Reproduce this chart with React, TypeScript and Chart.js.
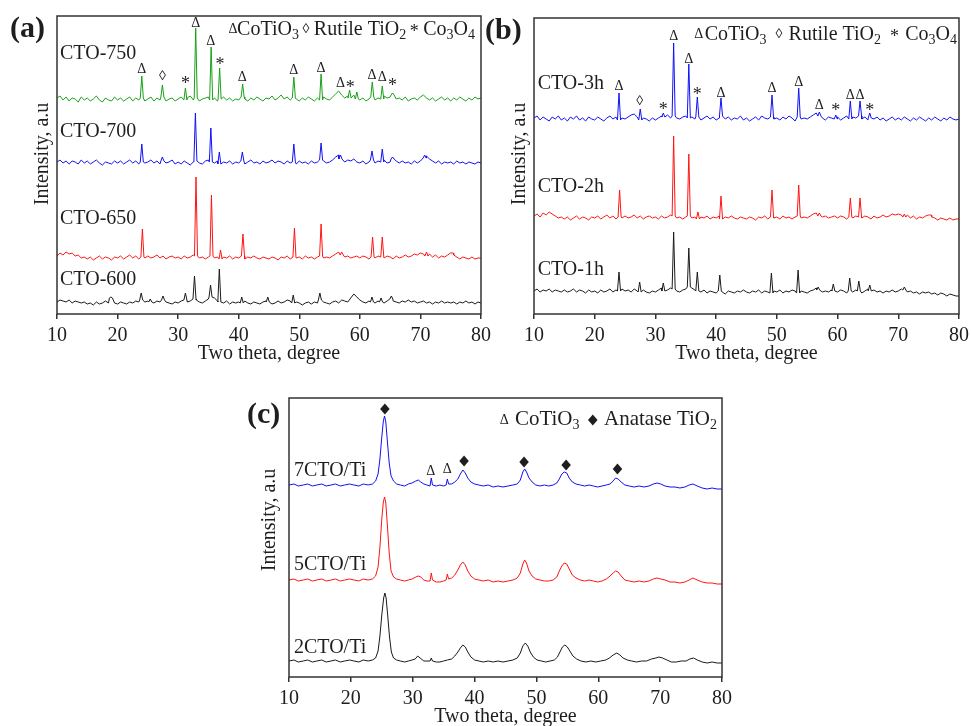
import React, { useEffect, useRef } from "react";
import { Chart, registerables } from "chart.js";
Chart.register(...registerables);

const FONT = '"Liberation Serif", "Times New Roman", serif';
const INK = "#1e1e1e";

// ---------- shared axis data ----------
const xTicks = [10, 20, 30, 40, 50, 60, 70, 80];
const gridStart = 10;
const gridStep = 0.5;

// ---------- panel (a): baselines sampled every 0.5 deg from 10 to 80 ----------
const cto750Base = [
  216,218,214,217,213,216,215,212,217,214,
  216,213,215,218,214,212,216,214,213,217,
  214,216,213,215,217,213,216,214,216,213,
  215,217,213,216,214,217,213,215,216,213,
  215,217,214,216,218,214,216,213,215,216,
  217,214,216,213,215,217,214,216,213,215,
  214,217,215,213,216,214,217,215,213,216,
  215,218,214,216,219,215,217,214,216,215,
  213,216,214,217,215,213,216,214,217,215,
  214,217,220,223,219,216,218,216,219,215,
  214,216,213,215,217,214,216,215,218,216,
  217,219,215,216,214,217,213,215,216,214,
  217,219,216,214,216,213,215,217,214,216,
  213,216,214,217,215,213,216,214,217,215,
  216,
];
const cto750Peaks = [
  [24.0, 238], [27.4, 229], [31.2, 226], [32.9, 286], [35.45, 267], [36.85, 246],
  [40.65, 230], [49.1, 237], [53.6, 240], [58.3, 224], [59.5, 222], [62.05, 232],
  [63.7, 228], [65.4, 221],
];

const cto700Base = [
  152,154,151,153,150,153,152,150,154,151,
  153,150,152,154,151,149,152,151,150,153,
  151,153,150,152,154,151,153,150,152,151,
  152,154,151,153,150,153,151,152,154,150,
  152,150,153,151,149,152,153,151,150,153,
  154,152,151,153,150,152,151,153,150,152,
  151,153,150,152,154,151,152,150,153,151,
  152,154,151,153,152,150,153,151,152,150,
  153,151,152,150,153,151,152,154,153,151,
  152,154,157,159,155,152,154,153,155,152,
  151,153,150,152,154,151,153,152,154,151,
  152,155,153,151,153,151,152,150,153,151,
  153,156,158,155,153,151,153,150,152,151,
  152,150,153,151,152,150,152,151,150,152,
  151,
];
const cto700Peaks = [
  [24.0, 170], [27.4, 157], [32.85, 201], [35.4, 186], [36.8, 162], [40.6, 162],
  [49.1, 170], [53.6, 171], [56.8, 159], [62.0, 163], [63.7, 165], [65.4, 157],
  [70.7, 159],
];

const cto650Base = [
  58,61,59,62,60,61,58,59,56,57,
  55,57,54,56,58,55,57,56,54,57,
  56,58,55,57,59,56,58,55,57,56,
  58,56,57,59,56,58,55,57,58,56,
  57,55,58,56,57,59,58,56,57,55,
  57,58,56,57,55,57,56,58,55,57,
  56,58,55,57,56,58,56,55,57,56,
  55,57,56,54,57,56,58,55,57,56,
  57,55,58,56,57,55,57,58,56,57,
  56,58,60,62,59,57,58,56,57,58,
  56,58,57,55,57,56,58,57,56,58,
  57,55,58,56,57,59,57,58,60,59,
  61,60,58,60,57,59,56,58,57,59,
  61,59,57,55,57,56,55,57,55,56,
  56,
];
const cto650Peaks = [
  [24.1, 85], [32.95, 137], [35.5, 119], [37.0, 64], [40.7, 80], [49.2, 86],
  [53.6, 90], [57.0, 62], [62.1, 77], [63.7, 77], [71.0, 62], [75.2, 61],
];

const cto600Base = [
  12,14,13,12,14,11,13,12,11,12,
  10,11,9,12,10,11,13,11,16,11,
  10,12,11,10,12,11,13,12,14,12,
  13,12,11,13,12,14,12,11,10,12,
  11,13,14,12,13,15,14,12,11,13,
  15,17,16,13,12,11,13,10,12,11,
  12,11,13,11,10,12,11,10,12,13,
  12,10,11,13,11,12,14,13,11,12,
  11,9,11,12,10,12,11,14,12,11,
  10,12,13,11,14,13,12,16,20,17,
  14,12,11,13,12,11,13,12,11,13,
  15,13,12,11,13,12,14,12,13,11,
  12,13,11,12,10,12,11,13,11,12,
  11,12,10,12,11,13,11,12,10,12,
  11,
];
const cto600Peaks = [
  [18.9, 17], [23.9, 21], [25.4, 15], [27.5, 18], [31.2, 21], [32.7, 38],
  [35.35, 29], [36.8, 45], [40.5, 17], [44.8, 17], [49.0, 19], [53.4, 21],
  [62.0, 17], [63.5, 16], [65.2, 18],
];

// ---------- panel (b) ----------
const cto3hBase = [
  196,198,194,197,195,193,197,195,198,194,
  196,193,197,195,198,194,196,193,197,195,
  194,197,195,193,196,198,195,197,194,196,
  195,197,199,200,197,194,196,195,193,196,
  194,196,198,197,199,196,198,196,195,197,
  198,196,197,195,197,194,196,198,195,197,
  194,196,198,195,197,194,196,195,198,194,
  196,193,195,197,194,198,196,195,197,195,
  196,194,197,195,198,196,193,197,195,196,
  195,197,199,201,198,196,194,197,196,195,
  197,194,196,198,195,197,196,198,195,197,
  194,196,195,197,194,196,193,195,197,194,
  196,194,197,195,193,196,194,197,195,193,
  196,194,197,195,193,196,194,197,195,194,
  195,
];
const cto3hPeaks = [
  [24.0, 221], [27.5, 205], [31.3, 201], [33.0, 271], [35.5, 250], [36.9, 217],
  [40.8, 216], [49.2, 219], [53.6, 226], [57.0, 202], [59.7, 199], [62.1, 213],
  [63.7, 213], [65.3, 201],
];

const cto2hBase = [
  98,100,97,101,99,102,100,98,96,97,
  95,97,94,96,98,95,97,96,94,97,
  96,98,95,97,99,96,98,95,97,96,
  98,96,97,99,96,98,95,97,98,96,
  97,95,98,96,97,99,98,96,97,95,
  97,98,96,97,95,97,96,98,95,97,
  96,98,95,97,96,98,96,95,97,96,
  95,97,96,94,97,96,98,95,97,96,
  97,95,98,96,97,95,97,98,96,97,
  96,98,100,101,98,97,98,96,97,98,
  96,98,97,95,97,96,98,97,96,98,
  97,95,98,96,97,99,97,98,100,99,
  100,99,97,99,96,98,95,97,96,98,
  99,97,96,94,96,95,94,96,94,95,
  95,
];
const cto2hPeaks = [
  [24.1, 124], [33.0, 178], [35.5, 160], [37.0, 102], [40.8, 118], [49.2, 124],
  [53.6, 129], [57.0, 101], [62.1, 116], [63.7, 116], [71.0, 100], [75.2, 99],
];

const cto1hBase = [
  23,25,22,24,23,25,22,24,23,22,
  24,22,23,25,22,24,23,21,24,22,
  23,21,24,22,23,25,22,24,23,25,
  23,24,22,25,23,22,24,22,21,23,
  22,24,26,23,24,26,25,23,22,24,
  25,27,26,24,23,22,24,21,23,22,
  21,23,22,20,23,22,21,23,22,24,
  22,21,23,22,24,21,23,22,21,23,
  22,24,21,23,22,24,23,21,23,22,
  21,23,24,26,24,22,23,22,24,23,
  22,24,23,21,23,22,24,23,21,23,
  25,23,24,22,23,21,23,22,24,22,
  23,25,24,22,23,21,22,20,22,21,
  22,20,21,19,21,20,18,20,19,18,
  18,
];
const cto1hPeaks = [
  [24.0, 42], [27.4, 32], [31.3, 31], [33.0, 82], [35.5, 66], [36.9, 42],
  [40.6, 39], [49.1, 41], [53.5, 44], [56.8, 27], [59.3, 30], [62.0, 36],
  [63.5, 33], [65.3, 29], [71.0, 27],
];

// ---------- panel (c): explicit [2theta, intensity] points ----------
const cto7Ti = [
  [10,192],[10.8,193],[11.5,191],[12.3,192],[13,193],[13.8,191],[14.5,192],[15.3,193],[16,191],[16.8,192],
  [17.5,193],[18.3,191],[19,192],[19.8,193],[20.5,192],[21.3,191],[22,193],[22.8,192],[23.5,193],[24.0,196],
  [24.4,203],[24.7,218],[25.0,240],[25.25,256],[25.45,261],[25.65,255],[25.9,236],[26.2,214],[26.5,201],[26.9,196],
  [27.4,193],[28,192],[28.7,191],[29.3,193],[29.9,194],[30.5,196],[30.9,197],[31.3,195],[31.8,193],[32.3,192],
  [32.8,191],[33.0,199],[33.2,192],[33.8,191],[34.4,192],[35.0,191],[35.4,192],[35.6,198],[35.8,193],[36.3,193],
  [36.8,195],[37.3,198],[37.7,203],[38.1,207],[38.5,204],[38.9,199],[39.4,195],[40,193],[40.7,192],[41.4,191],
  [42.2,192],[43,190],[43.8,191],[44.6,190],[45.4,191],[46.2,192],[46.9,193],[47.4,197],[47.8,205],[48.1,208],
  [48.4,205],[48.8,199],[49.3,195],[49.9,192],[50.6,191],[51.3,192],[52,191],[52.7,192],[53.3,194],[53.7,198],
  [54.1,203],[54.5,205],[54.9,204],[55.3,199],[55.8,195],[56.4,193],[57.1,192],[57.8,191],[58.5,192],[59.2,191],
  [59.9,190],[60.6,191],[61.3,192],[61.9,193],[62.4,196],[62.8,199],[63.2,198],[63.7,195],[64.3,192],[65,191],
  [65.8,190],[66.6,191],[67.4,190],[68.2,191],[68.9,193],[69.5,194],[70.1,193],[70.8,191],[71.6,190],[72.4,190],
  [73.2,189],[74,190],[74.7,192],[75.3,193],[76,191],[76.8,189],[77.6,188],[78.4,189],[79.2,188],[80,188],
];
const cto5Ti = [
  [10,97],[10.8,98],[11.5,96],[12.3,97],[13,98],[13.8,96],[14.5,97],[15.3,98],[16,96],[16.8,97],
  [17.5,98],[18.3,96],[19,97],[19.8,98],[20.5,97],[21.3,96],[22,98],[22.8,97],[23.5,98],[24.0,101],
  [24.4,110],[24.7,130],[25.0,158],[25.25,175],[25.45,180],[25.65,174],[25.9,152],[26.2,124],[26.5,106],[26.9,100],
  [27.4,98],[28,97],[28.7,96],[29.3,97],[29.9,98],[30.5,100],[30.9,101],[31.3,100],[31.8,97],[32.3,96],
  [32.8,96],[33.0,104],[33.2,97],[33.8,95],[34.4,95],[35.0,96],[35.4,97],[35.6,103],[35.8,98],[36.3,99],
  [36.8,102],[37.3,107],[37.7,112],[38.1,115],[38.5,112],[38.9,106],[39.4,101],[40,98],[40.7,97],[41.4,96],
  [42.2,97],[43,95],[43.8,96],[44.6,95],[45.4,96],[46.2,97],[46.9,99],[47.4,104],[47.8,113],[48.1,117],
  [48.4,114],[48.8,106],[49.3,101],[49.9,98],[50.6,97],[51.3,96],[52,96],[52.7,97],[53.3,100],[53.7,106],
  [54.1,111],[54.5,114],[54.9,113],[55.3,108],[55.8,102],[56.4,99],[57.1,97],[57.8,96],[58.5,97],[59.2,96],
  [59.9,95],[60.6,96],[61.3,98],[61.9,101],[62.4,104],[62.8,106],[63.2,105],[63.7,101],[64.3,97],[65,96],
  [65.8,95],[66.6,96],[67.4,95],[68.2,96],[68.9,98],[69.5,99],[70.1,98],[70.8,97],[71.6,95],[72.4,95],
  [73.2,94],[74,95],[74.7,97],[75.3,99],[76,97],[76.8,95],[77.6,94],[78.4,94],[79.2,93],[80,93],
];
const cto2Ti = [
  [10,16],[10.8,17],[11.5,15],[12.3,16],[13,17],[13.8,15],[14.5,16],[15.3,17],[16,15],[16.8,16],
  [17.5,17],[18.3,15],[19,16],[19.8,17],[20.5,16],[21.3,15],[22,17],[22.8,16],[23.5,17],[24.0,19],
  [24.4,26],[24.7,41],[25.0,62],[25.3,79],[25.5,84],[25.7,79],[25.95,62],[26.25,40],[26.55,25],[26.9,19],
  [27.4,17],[28,16],[28.7,15],[29.3,16],[29.9,17],[30.4,18],[30.8,21],[31.2,19],[31.8,16],[32.3,16],
  [32.8,16],[33.0,19],[33.2,16],[33.8,15],[34.4,15],[35.0,16],[35.6,17],[36.3,18],[36.8,21],[37.3,25],
  [37.7,29],[38.1,32],[38.5,30],[38.9,25],[39.4,20],[40,17],[40.7,16],[41.4,15],[42.2,16],[43,15],
  [43.8,16],[44.6,15],[45.4,16],[46.2,17],[46.9,19],[47.4,24],[47.8,31],[48.2,34],[48.6,31],[49.0,25],
  [49.5,20],[50.1,17],[50.8,16],[51.5,15],[52.2,16],[52.9,17],[53.4,20],[53.8,25],[54.2,30],[54.6,32],
  [55.0,30],[55.4,26],[55.9,21],[56.5,18],[57.2,16],[58,15],[58.8,16],[59.6,15],[60.4,16],[61.2,17],
  [61.8,19],[62.4,22],[63.0,24],[63.5,22],[64.0,19],[64.7,17],[65.4,16],[66.2,15],[67,16],[67.8,16],
  [68.6,18],[69.3,19],[69.8,20],[70.4,19],[71.1,17],[71.8,15],[72.6,15],[73.4,16],[74.2,16],[74.8,18],
  [75.4,19],[76,17],[76.8,15],[77.6,14],[78.4,15],[79.2,14],[80,14],
];

// ---------- labels & phase markers ([text, 2theta, intensity]) ----------
const labelsA = [["CTO-750", 10.5, 260], ["CTO-700", 10.5, 182], ["CTO-650", 10.5, 95], ["CTO-600", 10.5, 34]];
const labelsB = [["CTO-3h", 10.6, 230], ["CTO-2h", 10.6, 127], ["CTO-1h", 10.6, 44]];
const labelsC = [["7CTO/Ti", 10.8, 206], ["5CTO/Ti", 10.8, 112], ["2CTO/Ti", 10.8, 29]];

const marksA = [
  ["Δ", 24.0, 245], ["◊", 27.4, 238], ["*", 31.2, 233], ["Δ", 32.9, 291], ["Δ", 35.4, 273],
  ["*", 36.9, 252], ["Δ", 40.6, 237], ["Δ", 49.1, 244], ["Δ", 53.6, 246], ["Δ", 56.8, 231],
  ["*", 58.4, 229], ["Δ", 62.0, 239], ["Δ", 63.7, 237], ["*", 65.4, 231],
];
const marksB = [
  ["Δ", 24.0, 228], ["◊", 27.4, 213], ["*", 31.3, 207], ["Δ", 33.0, 278], ["Δ", 35.5, 255],
  ["*", 36.9, 222], ["Δ", 40.8, 221], ["Δ", 49.2, 226], ["Δ", 53.6, 232], ["Δ", 57.0, 209],
  ["*", 59.7, 206], ["Δ", 62.1, 219], ["Δ", 63.7, 219], ["*", 65.3, 206],
];
const marksC = [
  ["◆", 25.5, 268], ["Δ", 32.9, 206], ["Δ", 35.6, 208], ["◆", 38.3, 216],
  ["◆", 48.0, 215], ["◆", 54.8, 212], ["◆", 63.1, 208],
];

// legend pieces: [text, kind]  kind: n = normal, s = subscript, m = small marker
const legendAB = [
  ["Δ", "m"], ["CoTiO", "n"], ["3", "s"], [" ", "n"], ["◊", "m"], [" Rutile TiO", "n"], ["2", "s"],
  [" ", "n"], ["*", "m"], [" Co", "n"], ["3", "s"], ["O", "n"], ["4", "s"],
];
const legendC = [
  ["Δ", "m"], [" CoTiO", "n"], ["3", "s"], [" ", "n"], ["◆", "m"], [" Anatase TiO", "n"], ["2", "s"],
];

function buildSeries(base: number[], peaks: number[][]) {
  const pts: { x: number; y: number }[] = [];
  base.forEach((v, i) => {
    const x = gridStart + i * gridStep;
    if (peaks.some((p) => Math.abs(p[0] - x) < 0.26)) return;
    pts.push({ x, y: v });
  });
  peaks.forEach(([px, top]) => {
    const foot = base[Math.round((px - gridStart) / gridStep)];
    pts.push({ x: px - 0.25, y: foot }, { x: px, y: top }, { x: px + 0.25, y: foot });
  });
  pts.sort((a, b) => a.x - b.x);
  return pts;
}
const fromPairs = (arr: number[][]) => arr.map(([x, y]) => ({ x, y }));

const GREEN = "#17a017";
const BLUE = "#1010f5";
const RED = "#ff1414";
const BLACK = "#1a1a1a";

type PanelCfg = {
  left: number; top: number; width: number; height: number;
  pad: { l: number; t: number; r: number }; plotBottom: number; yMax: number;
  series: { data: { x: number; y: number }[]; color: string }[];
  labels: any[]; marks: any[]; legend: any[]; legendRight: number; legendBase: number; legendSize: number; legendExtra: number;
  letter: string; letterX: number; letterY: number;
  yTitleX: number; yTitleY: number; xTitleBase: number;
};

const panels: PanelCfg[] = [
  {
    left: 0, top: 0, width: 501, height: 370,
    pad: { l: 57, t: 16, r: 20 }, plotBottom: 314, yMax: 298,
    series: [
      { data: buildSeries(cto750Base, cto750Peaks), color: GREEN },
      { data: buildSeries(cto700Base, cto700Peaks), color: BLUE },
      { data: buildSeries(cto650Base, cto650Peaks), color: RED },
      { data: buildSeries(cto600Base, cto600Peaks), color: BLACK },
    ],
    labels: labelsA, marks: marksA, legend: legendAB, legendRight: 475, legendBase: 34.5, legendSize: 20, legendExtra: -1,
    letter: "(a)", letterX: 10, letterY: 29, yTitleX: 43, yTitleY: 154, xTitleBase: 359,
  },
  {
    left: 480, top: 0, width: 499, height: 370,
    pad: { l: 54, t: 18, r: 20 }, plotBottom: 314, yMax: 296,
    series: [
      { data: buildSeries(cto3hBase, cto3hPeaks), color: BLUE },
      { data: buildSeries(cto2hBase, cto2hPeaks), color: RED },
      { data: buildSeries(cto1hBase, cto1hPeaks), color: BLACK },
    ],
    labels: labelsB, marks: marksB, legend: legendAB, legendRight: 477, legendBase: 39.5, legendSize: 20, legendExtra: 2.6,
    letter: "(b)", letterX: 5, letterY: 31, yTitleX: 40, yTitleY: 154, xTitleBase: 359,
  },
  {
    left: 240, top: 380, width: 502, height: 346,
    pad: { l: 49, t: 18, r: 20 }, plotBottom: 297, yMax: 279,
    series: [
      { data: fromPairs(cto7Ti), color: BLUE },
      { data: fromPairs(cto5Ti), color: RED },
      { data: fromPairs(cto2Ti), color: BLACK },
    ],
    labels: labelsC, marks: marksC, legend: legendC, legendRight: 477, legendBase: 45, legendSize: 21, legendExtra: 2,
    letter: "(c)", letterX: 7, letterY: 35, yTitleX: 30, yTitleY: 140, xTitleBase: 342,
  },
];

function drawMarker(ctx: CanvasRenderingContext2D, sym: string, x: number, y: number, size: number) {
  if (sym === "◆") {
    const r = size * 0.4;
    ctx.beginPath();
    ctx.moveTo(x, y - r); ctx.lineTo(x + r * 0.85, y); ctx.lineTo(x, y + r); ctx.lineTo(x - r * 0.85, y);
    ctx.closePath(); ctx.fill();
    return;
  }
  ctx.font = `${sym === "*" ? size + 4 : size}px ${FONT}`;
  ctx.textAlign = "center";
  ctx.textBaseline = "middle";
  ctx.fillText(sym, x, sym === "*" ? y + 3 : y);
}

function makeDecor(cfg: PanelCfg) {
  return {
    id: "decor",
    afterDraw(chart: any) {
      const { ctx, chartArea: a, scales } = chart;
      const xs = scales.x, ys = scales.y;
      ctx.save();
      ctx.strokeStyle = "#333";
      ctx.lineWidth = 1.5;
      ctx.strokeRect(a.left, a.top, a.right - a.left, a.bottom - a.top);
      ctx.fillStyle = INK;
      // series labels
      ctx.font = `20px ${FONT}`;
      ctx.textAlign = "left";
      ctx.textBaseline = "middle";
      cfg.labels.forEach(([t, x, y]: any) => ctx.fillText(t, xs.getPixelForValue(x), ys.getPixelForValue(y)));
      // phase markers
      cfg.marks.forEach(([s, x, y]: any) => drawMarker(ctx, s, xs.getPixelForValue(x), ys.getPixelForValue(y), 14));
      // legend
      const big = cfg.legendSize, small = 14;
      const widths = cfg.legend.map(([t, k]: any) => {
        let w;
        if (k === "m" && t === "◆") w = 10;
        else {
          ctx.font = `${k === "n" ? big : k === "m" && t === "*" ? small + 4 : small}px ${FONT}`;
          w = ctx.measureText(t).width;
        }
        if (k === "m" || t === " ") w += cfg.legendExtra;
        return w;
      });
      let lx = cfg.legendRight - widths.reduce((s: number, w: number) => s + w, 0);
      cfg.legend.forEach(([t, k]: any, i: number) => {
        const w = widths[i];
        if (k === "m") {
          drawMarker(ctx, t, lx + w / 2, cfg.legendBase - 5, small);
        } else {
          ctx.font = `${k === "n" ? big : small}px ${FONT}`;
          ctx.textAlign = "left";
          ctx.textBaseline = "alphabetic";
          ctx.fillText(t, lx, k === "s" ? cfg.legendBase + 4 : cfg.legendBase);
        }
        lx += w;
      });
      // panel letter
      ctx.font = `bold 30px ${FONT}`;
      ctx.textAlign = "left";
      ctx.textBaseline = "middle";
      ctx.fillText(cfg.letter, cfg.letterX, cfg.letterY);
      // axis titles
      ctx.font = `20px ${FONT}`;
      ctx.textAlign = "center";
      ctx.textBaseline = "alphabetic";
      ctx.fillText("Two theta, degree", (a.left + a.right) / 2, cfg.xTitleBase);
      ctx.save();
      ctx.translate(cfg.yTitleX, cfg.yTitleY);
      ctx.rotate(-Math.PI / 2);
      ctx.textBaseline = "middle";
      ctx.fillText("Intensity, a.u", 0, 0);
      ctx.restore();
      ctx.restore();
    },
  };
}

function Panel({ cfg }: { cfg: PanelCfg }) {
  const ref = useRef<HTMLCanvasElement>(null);
  useEffect(() => {
    if (!ref.current) return;
    const chart = new Chart(ref.current, {
      type: "scatter",
      data: {
        datasets: cfg.series.map((s) => ({
          data: s.data,
          borderColor: s.color,
          backgroundColor: s.color,
          borderWidth: 1,
          pointRadius: 0,
          showLine: true,
          fill: false,
          tension: 0,
        })),
      },
      options: {
        animation: false,
        responsive: false,
        maintainAspectRatio: false,
        devicePixelRatio: 1,
        layout: { padding: { left: cfg.pad.l, top: cfg.pad.t, right: cfg.pad.r, bottom: 0 } },
        plugins: { legend: { display: false }, tooltip: { enabled: false } },
        scales: {
          x: {
            type: "linear",
            min: 10,
            max: 80,
            afterBuildTicks: (axis: any) => {
              axis.ticks = xTicks.map((v) => ({ value: v }));
            },
            afterFit: (s: any) => {
              s.height = cfg.height - cfg.plotBottom;
            },
            ticks: { font: { family: FONT, size: 20 }, color: INK, padding: 5, maxRotation: 0, autoSkip: false },
            grid: { display: true, drawOnChartArea: false, drawTicks: true, tickLength: 5, color: "#333", lineWidth: 1.5 },
            border: { display: false },
          },
          y: { display: false, min: 0, max: cfg.yMax },
        },
      } as any,
      plugins: [makeDecor(cfg)],
    });
    return () => chart.destroy();
  }, [cfg]);
  return (
    <canvas
      ref={ref}
      width={cfg.width}
      height={cfg.height}
      style={{ position: "absolute", left: cfg.left, top: cfg.top, width: cfg.width, height: cfg.height }}
    />
  );
}

export default function App() {
  return (
    <div style={{ position: "fixed", left: 0, top: 0, width: 971, height: 726, background: "#fff", overflow: "hidden" }}>
      {panels.map((p, i) => (
        <Panel key={i} cfg={p} />
      ))}
    </div>
  );
}
